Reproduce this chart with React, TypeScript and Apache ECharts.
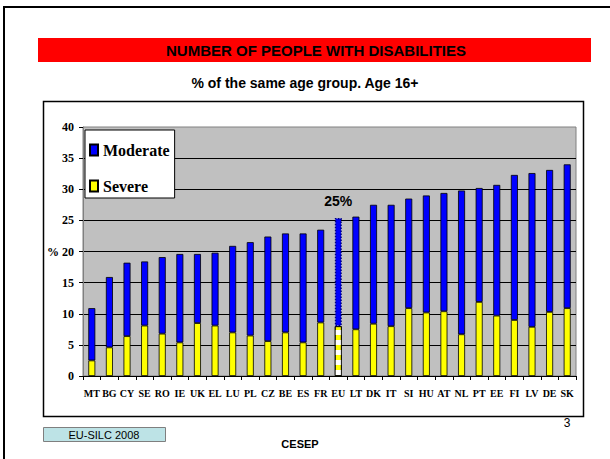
import React, { useEffect, useRef } from "react";
import * as echarts from "echarts";

const countries = ["MT","BG","CY","SE","RO","IE","UK","EL","LU","PL","CZ","BE","ES","FR","EU","LT","DK","IT","SI","HU","AT","NL","PT","EE","FI","LV","DE","SK"];
const severe = [2.5,4.6,6.4,8.1,6.8,5.4,8.5,8.1,7.0,6.5,5.6,7.0,5.4,8.6,8.0,7.5,8.4,8.0,10.9,10.2,10.4,6.7,11.9,9.7,9.0,7.9,10.3,10.9];
const moderate = [8.4,11.3,11.8,10.3,12.3,14.2,11.1,11.7,13.9,15.0,16.8,15.9,17.5,14.9,17.4,18.1,19.1,19.5,17.6,18.8,19.0,23.1,18.3,21.0,23.3,24.7,22.8,23.1];
const yTicks = { min: 0, max: 40, interval: 5 };
const euLabel = "25%";
const highlight = "EU";

const serif = "Liberation Serif";
const sans = "Liberation Sans";

export default function App() {
  const ref = useRef<HTMLDivElement>(null);
  useEffect(() => {
    document.body.style.margin = "0";
    const chart = echarts.init(ref.current!, null, { renderer: "svg" });
    const severeData = severe.map((v, i) =>
      countries[i] === highlight
        ? {
            value: v,
            itemStyle: {
              decal: {
                symbol: "rect",
                symbolSize: 1,
                color: "#ffffff",
                dashArrayX: [1, 0],
                dashArrayY: [5, 5],
                rotation: 0,
              },
            },
          }
        : v
    );
    const moderateData = moderate.map((v, i) =>
      countries[i] === highlight
        ? {
            value: v,
            itemStyle: { borderType: "dotted", borderColor: "#000080", borderWidth: 1.5 },
            label: {
              show: true,
              position: "top",
              distance: 10,
              formatter: euLabel,
              fontFamily: sans,
              fontWeight: "bold",
              fontSize: 14,
              color: "#000",
            },
          }
        : v
    );
    chart.setOption({
      animation: false,
      backgroundColor: "#ffffff",
      graphic: [
        { type: "rect", shape: { x: 4, y: 7, width: 800, height: 800 }, style: { fill: "none", stroke: "#000", lineWidth: 2 }, z: -10 },
        { type: "rect", shape: { x: 38, y: 38, width: 553, height: 24 }, style: { fill: "#ff0000" }, z: -5 },
        { type: "text", x: 316, y: 50, style: { text: "NUMBER OF PEOPLE WITH DISABILITIES", font: `bold 15px ${sans}`, fill: "#000", align: "center", verticalAlign: "middle" } },
        { type: "text", x: 305, y: 83, style: { text: "% of the same age group. Age 16+", font: `bold 14px ${sans}`, fill: "#000", align: "center", verticalAlign: "middle" } },
        { type: "rect", shape: { x: 43.5, y: 101.5, width: 540, height: 315 }, style: { fill: "none", stroke: "#000", lineWidth: 1.5 }, z: -5 },
        { type: "rect", shape: { x: 43.5, y: 427.5, width: 122, height: 14 }, style: { fill: "#bde3e6", stroke: "#7f7f7f", lineWidth: 1 } },
        { type: "text", x: 104, y: 435, style: { text: "EU-SILC 2008", font: `11px ${sans}`, fill: "#000", align: "center", verticalAlign: "middle" } },
        { type: "text", x: 300, y: 444, style: { text: "CESEP", font: `bold 11px ${sans}`, fill: "#000", align: "center", verticalAlign: "middle" } },
        { type: "text", x: 567, y: 423, style: { text: "3", font: `12px ${sans}`, fill: "#000", align: "center", verticalAlign: "middle" } },
      ],
      legend: {
        data: ["Moderate", "Severe"],
        orient: "vertical",
        left: 85,
        top: 130,
        backgroundColor: "#ffffff",
        borderColor: "#000",
        borderWidth: 1,
        padding: [12, 5, 4, 4],
        itemGap: 20,
        itemWidth: 8,
        itemHeight: 11,
        icon: "rect",
        textStyle: { fontFamily: serif, fontWeight: "bold", fontSize: 16, color: "#000" },
      },
      grid: {
        left: 83,
        top: 127,
        width: 493,
        height: 249,
        show: true,
        backgroundColor: "#c0c0c0",
        borderColor: "#808080",
        borderWidth: 1,
      },
      xAxis: {
        type: "category",
        data: countries,
        axisLine: { lineStyle: { color: "#000", width: 1 } },
        axisTick: { show: true, length: 4, interval: 0, lineStyle: { color: "#000" } },
        axisLabel: { interval: 0, margin: 12, fontFamily: serif, fontWeight: "bold", fontSize: 10, color: "#000" },
      },
      yAxis: {
        type: "value",
        min: yTicks.min,
        max: yTicks.max,
        interval: yTicks.interval,
        name: "%",
        nameLocation: "middle",
        nameRotate: 0,
        nameGap: 24,
        nameMoveOverlap: false,
        nameTextStyle: { fontFamily: serif, fontWeight: "bold", fontSize: 12, color: "#000" },
        axisLine: { show: true, lineStyle: { color: "#808080", width: 1 } },
        axisTick: { show: true, length: 4, lineStyle: { color: "#000" } },
        axisLabel: { margin: 9, fontFamily: serif, fontWeight: "bold", fontSize: 12, color: "#000" },
        splitLine: { show: true, showMaxLine: false, showMinLine: false, lineStyle: { color: "#000", width: 1 } },
      },
      series: [
        {
          name: "Severe",
          type: "bar",
          stack: "total",
          barWidth: 7,
          data: severeData,
          itemStyle: { color: "#ffff00", borderColor: "#000", borderWidth: 0.8 },
        },
        {
          name: "Moderate",
          type: "bar",
          stack: "total",
          barWidth: 7,
          data: moderateData,
          itemStyle: { color: "#0000ff", borderColor: "#000", borderWidth: 0.8 },
        },
      ],
    });
    return () => chart.dispose();
  }, []);
  return <div ref={ref} style={{ width: 610, height: 459 }} />;
}
